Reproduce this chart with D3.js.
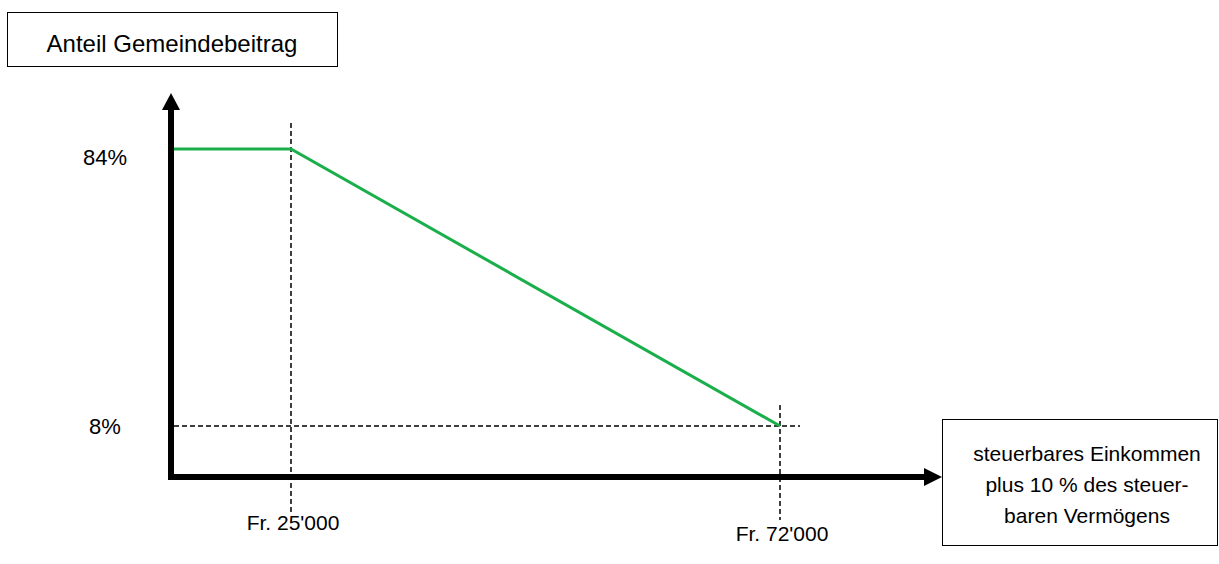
<!DOCTYPE html>
<html>
<head>
<meta charset="utf-8">
<script src="https://cdn.jsdelivr.net/npm/d3@7"></script>
<style>
  html, body { margin: 0; padding: 0; background: #fff; }
  svg { display: block; font-family: "Liberation Sans", Arial, sans-serif; }
</style>
</head>
<body>
<svg id="chart" width="1219" height="564"></svg>
<script>
// ---- data ----
const incomes = [0, 25000, 72000];          // Fr.
const shares = [84, 84, 8];                  // % Anteil Gemeindebeitrag
const xTickValues = [25000, 72000];
const xTickLabels = ["Fr. 25'000", "Fr. 72'000"];
const yTickValues = [84, 8];
const yTickLabels = ["84%", "8%"];
const yTitle = "Anteil Gemeindebeitrag";
const xTitleLines = ["steuerbares Einkommen", "plus 10 % des steuer-", "baren Vermögens"];

const svg = d3.select("#chart");

// schematic (not to scale) axes: piecewise scales
const x = d3.scaleLinear().domain([0, 25000, 72000]).range([174, 291, 780]);
const y = d3.scaleLinear().domain([8, 84]).range([426, 149]);

const axisX0 = 171, axisY0 = 477;

// dashed guides
const dash = "5,3";
svg.append("line")
  .attr("x1", axisX0 + 3).attr("x2", 800)
  .attr("y1", y(8)).attr("y2", y(8))
  .attr("stroke", "#000").attr("stroke-width", 1.5).attr("stroke-dasharray", dash);
svg.append("line")
  .attr("x1", x(25000)).attr("x2", x(25000))
  .attr("y1", 123).attr("y2", 512)
  .attr("stroke", "#000").attr("stroke-width", 1.5).attr("stroke-dasharray", dash);
svg.append("line")
  .attr("x1", x(72000)).attr("x2", x(72000))
  .attr("y1", 405).attr("y2", 520)
  .attr("stroke", "#000").attr("stroke-width", 1.5).attr("stroke-dasharray", dash);

// green line
const line = d3.line().x(d => x(d)).y((d, i) => y(shares[i]));
svg.append("path")
  .datum(incomes)
  .attr("d", line)
  .attr("fill", "none")
  .attr("stroke", "#1aaf4b")
  .attr("stroke-width", 3);

// axes with arrows
svg.append("line")
  .attr("x1", axisX0).attr("x2", axisX0)
  .attr("y1", axisY0 + 3).attr("y2", 108)
  .attr("stroke", "#000").attr("stroke-width", 6);
svg.append("path")
  .attr("d", `M${axisX0 - 9},110 L${axisX0 + 9},110 L${axisX0},93 Z`)
  .attr("fill", "#000");
svg.append("line")
  .attr("x1", axisX0 - 3).attr("x2", 926)
  .attr("y1", axisY0).attr("y2", axisY0)
  .attr("stroke", "#000").attr("stroke-width", 6);
svg.append("path")
  .attr("d", `M924,${axisY0 - 9} L924,${axisY0 + 9} L942,${axisY0} Z`)
  .attr("fill", "#000");

// y tick labels
const yLabOffset = [16, 8];
svg.selectAll(".ylab").data(yTickValues).enter().append("text")
  .attr("x", 105).attr("y", (d, i) => y(d) + yLabOffset[i])
  .attr("text-anchor", "middle")
  .attr("font-size", 22)
  .attr("fill", "#000")
  .text((d, i) => yTickLabels[i]);

// x tick labels
const xLabY = [530, 541];
svg.selectAll(".xlab").data(xTickValues).enter().append("text")
  .attr("x", d => x(d) + 2).attr("y", (d, i) => xLabY[i])
  .attr("text-anchor", "middle")
  .attr("font-size", 21)
  .attr("fill", "#000")
  .text((d, i) => xTickLabels[i]);

// y title box
svg.append("rect")
  .attr("x", 7.5).attr("y", 12.5).attr("width", 330).attr("height", 54)
  .attr("fill", "#fff").attr("stroke", "#000").attr("stroke-width", 1);
svg.append("text")
  .attr("x", 172).attr("y", 52)
  .attr("text-anchor", "middle")
  .attr("font-size", 24)
  .attr("fill", "#000")
  .text(yTitle);

// x title box
svg.append("rect")
  .attr("x", 942.5).attr("y", 419.5).attr("width", 275).attr("height", 126)
  .attr("fill", "#fff").attr("stroke", "#000").attr("stroke-width", 1);
svg.selectAll(".xt").data(xTitleLines).enter().append("text")
  .attr("x", 1087).attr("y", (d, i) => 461 + i * 31)
  .attr("text-anchor", "middle")
  .attr("font-size", 21)
  .attr("fill", "#000")
  .text(d => d);
</script>
</body>
</html>
